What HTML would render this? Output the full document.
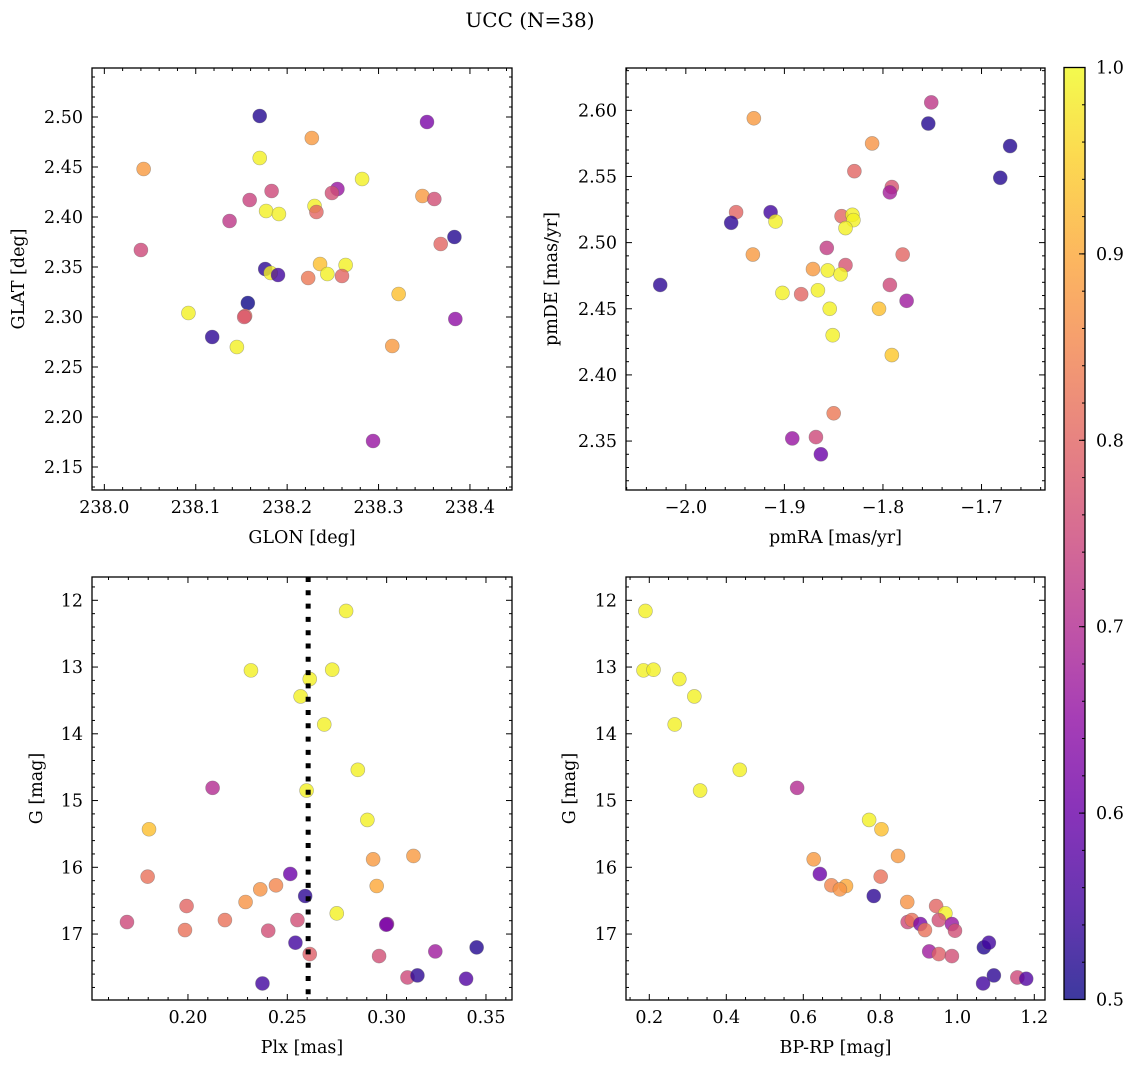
<!DOCTYPE html>
<html><head><meta charset="utf-8">
<style>
html,body{margin:0;padding:0;background:#fff;}
svg{display:block;font-family:"DejaVu Serif","Liberation Serif",serif;}
</style></head>
<body>
<svg id="fig" width="1136" height="1067" viewBox="0 0 1136 1067" xmlns="http://www.w3.org/2000/svg">
<defs>
<linearGradient id="plasmaGrad" x1="0" y1="1" x2="0" y2="0">
<stop offset="0" stop-color="#0d0887"/><stop offset="0.1" stop-color="#41049d"/>
<stop offset="0.2" stop-color="#6a00a8"/><stop offset="0.3" stop-color="#8f0da4"/>
<stop offset="0.4" stop-color="#b12a90"/><stop offset="0.5" stop-color="#cc4778"/>
<stop offset="0.6" stop-color="#e16462"/><stop offset="0.7" stop-color="#f2844b"/>
<stop offset="0.8" stop-color="#fca636"/><stop offset="0.9" stop-color="#fcce25"/>
<stop offset="1" stop-color="#f0f921"/>
</linearGradient>
</defs>
<text x="530" y="27" text-anchor="middle" font-size="20">UCC (N=38)</text>
</svg>
<script>
// ---- Panel 1: GLON vs GLAT ----
const glon = [238.170,238.353,238.227,238.043,238.170,238.282,238.255,238.249,238.183,238.159,238.348,238.361,238.177,238.191,238.230,238.232,238.137,238.040,238.383,238.368,238.176,238.182,238.190,238.236,238.244,238.264,238.260,238.223,238.322,238.157,238.154,238.092,238.384,238.118,238.145,238.315,238.294,238.153];
const glat = [2.501,2.495,2.479,2.448,2.459,2.438,2.428,2.424,2.426,2.417,2.421,2.418,2.406,2.403,2.411,2.405,2.396,2.367,2.380,2.373,2.348,2.344,2.342,2.353,2.343,2.352,2.341,2.339,2.323,2.314,2.301,2.304,2.298,2.280,2.270,2.271,2.176,2.300];
const prob1 = [0.52,0.62,0.88,0.88,0.99,0.99,0.66,0.76,0.75,0.74,0.88,0.76,0.99,0.99,0.99,0.80,0.72,0.75,0.52,0.80,0.53,0.99,0.55,0.93,0.99,0.99,0.80,0.83,0.93,0.50,0.81,0.99,0.65,0.53,0.99,0.88,0.66,0.78];
// ---- Panel 2: pmRA vs pmDE ----
const pmra = [-1.751,-1.754,-1.931,-1.671,-1.811,-1.681,-1.829,-1.791,-1.793,-1.949,-1.914,-1.954,-1.909,-1.842,-1.831,-1.830,-1.838,-1.932,-1.857,-1.780,-1.838,-1.871,-1.856,-1.843,-2.026,-1.902,-1.883,-1.866,-1.793,-1.776,-1.854,-1.804,-1.851,-1.791,-1.850,-1.892,-1.868,-1.863];
const pmde = [2.606,2.590,2.594,2.573,2.575,2.549,2.554,2.542,2.538,2.523,2.523,2.515,2.516,2.520,2.521,2.517,2.511,2.491,2.496,2.491,2.483,2.480,2.479,2.476,2.468,2.462,2.461,2.464,2.468,2.456,2.450,2.450,2.430,2.415,2.371,2.352,2.353,2.340];
const prob2 = [0.72,0.52,0.88,0.52,0.87,0.52,0.80,0.77,0.68,0.80,0.55,0.53,0.99,0.80,0.99,0.99,0.99,0.88,0.73,0.80,0.77,0.88,0.99,0.99,0.53,0.99,0.80,0.99,0.75,0.67,0.99,0.93,0.99,0.94,0.83,0.66,0.75,0.60];
// ---- Panel 3: Plx vs G ----
const plx = [0.2796,0.2317,0.2726,0.2613,0.2567,0.2686,0.2855,0.2124,0.2597,0.1804,0.2903,0.2932,0.3135,0.1797,0.2515,0.2950,0.2443,0.2364,0.2590,0.2290,0.1993,0.2749,0.1693,0.2186,0.2551,0.3002,0.1985,0.2404,0.2541,0.2613,0.2962,0.3245,0.3453,0.3105,0.3155,0.3400,0.2375,0.2998];
const gmag3 = [12.16,13.05,13.04,13.18,13.44,13.86,14.54,14.81,14.85,15.43,15.29,15.88,15.83,16.14,16.10,16.28,16.27,16.33,16.43,16.52,16.58,16.69,16.82,16.79,16.79,16.85,16.94,16.95,17.13,17.30,17.33,17.26,17.20,17.65,17.62,17.67,17.74,16.86];
const prob3 = [0.99,0.99,0.99,0.99,0.99,0.99,0.99,0.70,0.99,0.93,0.99,0.88,0.88,0.82,0.60,0.90,0.85,0.87,0.53,0.87,0.80,0.99,0.75,0.82,0.76,0.66,0.82,0.76,0.55,0.79,0.76,0.67,0.52,0.75,0.53,0.57,0.55,0.62];
const plxLine = [0.2605];
// ---- Panel 4: BP-RP vs G ----
const bprp = [0.190,0.185,0.211,0.278,0.317,0.266,0.435,0.332,0.584,0.771,0.803,0.846,0.627,0.643,0.801,0.673,0.711,0.695,0.783,0.870,0.945,0.969,0.871,0.882,0.952,0.986,0.904,0.916,0.994,1.069,1.082,0.927,0.952,0.986,1.095,1.067,1.156,1.179];
const gmag4 = [12.16,13.05,13.04,13.18,13.44,13.86,14.54,14.85,14.81,15.29,15.43,15.83,15.88,16.10,16.14,16.27,16.28,16.33,16.43,16.52,16.58,16.69,16.82,16.79,16.79,16.85,16.85,16.94,16.95,17.20,17.13,17.26,17.30,17.33,17.62,17.74,17.65,17.67];
const prob4 = [0.99,0.99,0.99,0.99,0.99,0.99,0.99,0.99,0.70,0.99,0.93,0.88,0.88,0.60,0.82,0.85,0.90,0.87,0.53,0.87,0.80,0.99,0.75,0.82,0.76,0.66,0.62,0.82,0.76,0.52,0.55,0.67,0.79,0.76,0.53,0.55,0.75,0.57];
// ---- Colorbar ticks ----
const cbTicks = [0.5,0.6,0.7,0.8,0.9,1.0];

const NS = "http://www.w3.org/2000/svg";
const svg = document.getElementById('fig');
const stops = ["#0d0887","#41049d","#6a00a8","#8f0da4","#b12a90","#cc4778","#e16462","#f2844b","#fca636","#fcce25","#f0f921"];
function hx(c){return [parseInt(c.substr(1,2),16),parseInt(c.substr(3,2),16),parseInt(c.substr(5,2),16)];}
function plasma(p){
  let t=(p-0.5)/0.5; t=Math.max(0,Math.min(1,t));
  const f=t*10, i=Math.min(9,Math.floor(f)), r=f-i;
  const a=hx(stops[i]), b=hx(stops[i+1]);
  return 'rgb('+a.map((v,k)=>Math.round(v+(b[k]-v)*r)).join(',')+')';
}
function el(tag, attrs, parent){
  const e=document.createElementNS(NS,tag);
  for(const k in attrs) e.setAttribute(k,attrs[k]);
  (parent||svg).appendChild(e); return e;
}
function fmt(v,d){ const s=Math.abs(v).toFixed(d); return (v< -1e-9?'\u2212':'')+s; }
const FS=17.5;

function panel(cfg){
  const g=el('g',{});
  
  
  const {L,R,T,B}=cfg;
  const sx=v=>L+(v-cfg.x0)/(cfg.x1-cfg.x0)*(R-L);
  const sy=cfg.yinv ? (v=>T+(v-cfg.y0)/(cfg.y1-cfg.y0)*(B-T)) : (v=>B-(v-cfg.y0)/(cfg.y1-cfg.y0)*(B-T));
  const tg=el('g',{stroke:'#000','stroke-width':1},g);
  const xmin=Math.min(cfg.x0,cfg.x1), xmax=Math.max(cfg.x0,cfg.x1);
  for(let k=Math.ceil(xmin/cfg.xminor-1e-6);k*cfg.xminor<=xmax+1e-9;k++){
    const v=k*cfg.xminor, X=sx(v);
    const major=Math.abs(v/cfg.xmajor-Math.round(v/cfg.xmajor))<1e-6;
    const len=major?6:3;
    el('line',{x1:X,x2:X,y1:B,y2:B-len},tg); el('line',{x1:X,x2:X,y1:T,y2:T+len},tg);
    if(major){
      const t=el('text',{x:X,y:B+23,'text-anchor':'middle','font-size':FS,stroke:'none',fill:'#000'},g);
      t.textContent=fmt(v,cfg.xdec);
      
      
    }
  }
  const ymin=Math.min(cfg.y0,cfg.y1), ymax=Math.max(cfg.y0,cfg.y1);
  for(let k=Math.ceil(ymin/cfg.yminor-1e-6);k*cfg.yminor<=ymax+1e-9;k++){
    const v=k*cfg.yminor, Y=sy(v);
    const major=Math.abs(v/cfg.ymajor-Math.round(v/cfg.ymajor))<1e-6;
    const len=major?6:3;
    el('line',{x1:L,x2:L+len,y1:Y,y2:Y},tg); el('line',{x1:R,x2:R-len,y1:Y,y2:Y},tg);
    if(major){
      const t=el('text',{x:L-9,y:Y+6,'text-anchor':'end','font-size':FS,fill:'#000'},g);
      t.textContent=fmt(v,cfg.ydec);
      
      
    }
  }
  const pg=el('g',{},g);
  for(let i=0;i<cfg.xs.length;i++){
    const c=el('circle',{cx:sx(cfg.xs[i]),cy:sy(cfg.ys[i]),r:7,fill:plasma(cfg.ps[i]),'fill-opacity':0.8,stroke:'#666','stroke-opacity':0.5,'stroke-width':0.6},pg);
    
    
  }
  if(cfg.vline){
    for(const v of cfg.vline){
      const ln=el('line',{x1:sx(v),x2:sx(v),y1:T,y2:B,stroke:'#000','stroke-width':5,'stroke-dasharray':'5,8.3'},g);
      
      
    }
  }
  const fr=el('rect',{x:L,y:T,width:R-L,height:B-T,fill:'none',stroke:'#000','stroke-width':1.3},g);
  
  
  const xl=el('text',{x:(L+R)/2,y:B+53,'text-anchor':'middle','font-size':FS},g);
  xl.textContent=cfg.xlabel;
  
  
  const yx=cfg.ylx, yy=(T+B)/2;
  const yl=el('text',{x:yx,y:yy,'text-anchor':'middle','font-size':FS,transform:'rotate(-90 '+yx+' '+yy+')'},g);
  yl.textContent=cfg.ylabel;
  
  
}

panel({name:'panel-glon-glat',L:92,R:512,T:68,B:490,x0:237.9865,x1:238.446,y0:2.127,y1:2.549,
  xmajor:0.1,xminor:0.02,ymajor:0.05,yminor:0.01,xdec:1,ydec:2,xs:glon,ys:glat,ps:prob1,
  xlabel:'GLON [deg]',ylabel:'GLAT [deg]',ylx:24});
panel({name:'panel-pmra-pmde',L:626,R:1045,T:68,B:490,x0:-2.0607,x1:-1.6356,y0:2.313,y1:2.632,
  xmajor:0.1,xminor:0.02,ymajor:0.05,yminor:0.01,xdec:1,ydec:2,xs:pmra,ys:pmde,ps:prob2,
  xlabel:'pmRA [mas/yr]',ylabel:'pmDE [mas/yr]',ylx:557});
panel({name:'panel-plx-g',L:92,R:512,T:577,B:1000,x0:0.1517,x1:0.3631,y0:11.651,y1:17.988,yinv:true,
  xmajor:0.05,xminor:0.01,ymajor:1,yminor:0.2,xdec:2,ydec:0,xs:plx,ys:gmag3,ps:prob3,vline:plxLine,
  xlabel:'Plx [mas]',ylabel:'G [mag]',ylx:42});
panel({name:'panel-bprp-g',L:626,R:1045,T:577,B:1000,x0:0.1395,x1:1.2278,y0:11.651,y1:17.988,yinv:true,
  xmajor:0.2,xminor:0.05,ymajor:1,yminor:0.2,xdec:1,ydec:0,xs:bprp,ys:gmag4,ps:prob4,
  xlabel:'BP-RP [mag]',ylabel:'G [mag]',ylx:575});

const cb=el('g',{});


const cT=67.5,cB=999.5,cL=1064,cR=1085;
const cy=v=>cB-(v-0.5)/0.5*(cB-cT);
const rr=el('rect',{x:cL,y:cT,width:cR-cL,height:cB-cT,fill:'url(#plasmaGrad)','fill-opacity':0.8},cb);


for(let k=25;k<=50;k++){
  const v=k*0.02, Y=cy(v);
  el('line',{x1:cR,x2:cR-3,y1:Y,y2:Y,stroke:'#000','stroke-width':1},cb);
}
for(const v of cbTicks){
  const Y=cy(v);
  el('line',{x1:cR,x2:cR-6,y1:Y,y2:Y,stroke:'#000','stroke-width':1},cb);
  const t=el('text',{x:cR+11,y:Y+6,'font-size':FS},cb);
  t.textContent=v.toFixed(1);
  
  
}
el('rect',{x:cL,y:cT,width:cR-cL,height:cB-cT,fill:'none',stroke:'#000','stroke-width':1.3},cb);
</script>
</body></html>
